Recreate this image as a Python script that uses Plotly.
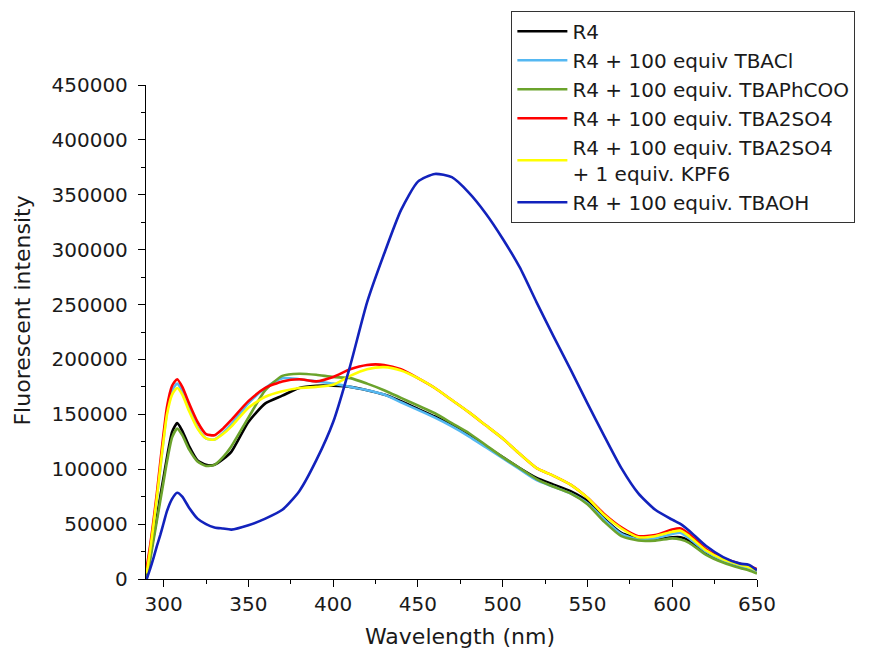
import plotly.graph_objects as go

wavelength = [290, 292, 294, 296, 298, 300, 302, 305, 308, 311, 315, 320, 325, 330, 335, 340,
              350, 360, 370, 380, 390, 400, 410, 420, 430, 440, 450, 460, 470, 480, 490, 500,
              510, 520, 530, 540, 550, 560, 570, 580, 590, 600, 605, 610, 620, 630, 640, 645, 650]

r4 = [3000, 20000, 38000, 56000, 75000, 93000, 111000, 134000, 142000, 135000, 121000, 108000, 104000, 104000, 109000, 116000,
      143000, 160000, 167000, 174000, 176000, 176000, 175000, 172000, 168000, 162000, 155000, 148000, 140000, 131000, 121000, 111000,
      101000, 92000, 86000, 80000, 71000, 55000, 42000, 37000, 36000, 38000, 38000, 35000, 24000, 17000, 12000, 10000, 8000]

r4_tbacl = [8000, 28000, 50000, 74000, 100000, 128000, 152000, 172000, 178000, 171000, 155000, 138000, 128000, 127000, 133000, 141000,
            160000, 174000, 183000, 182000, 180000, 178000, 175000, 172000, 168000, 161000, 154000, 147000, 139000, 130000, 120000, 110000,
            100000, 90000, 84000, 78000, 69000, 54000, 41000, 36000, 37000, 41000, 42000, 37000, 25000, 17000, 12000, 10000, 7000]

r4_tbaphcoo = [0, 17000, 35000, 53000, 71000, 89000, 107000, 129000, 137000, 131000, 118000, 107000, 103000, 104000, 111000, 121000,
               147000, 172000, 185000, 187000, 186000, 184000, 183000, 178000, 172000, 165000, 158000, 151000, 142000, 133000, 122000, 111000,
               101000, 91000, 84000, 78000, 68000, 52000, 39000, 35000, 35000, 37000, 36000, 33000, 22000, 15000, 10000, 8000, 5000]

r4_tba2so4 = [10000, 30000, 53000, 78000, 106000, 133000, 157000, 176000, 182000, 175000, 160000, 143000, 132000, 131000, 137000, 145000,
              162000, 174000, 180000, 182000, 180000, 184000, 191000, 195000, 195000, 191000, 183000, 174000, 163000, 152000, 140000, 128000,
              114000, 101000, 94000, 86000, 74000, 59000, 47000, 39000, 40000, 45000, 46000, 41000, 27000, 19000, 14000, 12000, 9000]

r4_tba2so4_kpf6 = [5000, 26000, 49000, 74000, 101000, 127000, 150000, 168000, 174000, 168000, 153000, 137000, 128000, 127000, 132000, 139000,
                   156000, 166000, 171000, 174000, 175000, 177000, 185000, 191000, 193000, 190000, 183000, 174000, 163000, 152000, 140000, 128000,
                   114000, 101000, 94000, 86000, 74000, 58000, 46000, 38000, 39000, 43000, 44000, 39000, 26000, 18000, 13000, 11000, 8000]

r4_tbaoh = [0, 9000, 19000, 30000, 40000, 51000, 62000, 73000, 78500, 75000, 65000, 55000, 50000, 47000, 46000, 45000,
            49000, 55000, 63000, 80000, 108000, 143000, 194000, 252000, 296000, 336000, 362000, 369000, 366000, 352000, 333000, 310000,
            284000, 252000, 221000, 191000, 160000, 130000, 101000, 78000, 63000, 54000, 50000, 44000, 30000, 20000, 14000, 13000, 8000]

series_names = ["R4",
                "R4 + 100 equiv TBACl",
                "R4 + 100 equiv. TBAPhCOO",
                "R4 + 100 equiv. TBA2SO4",
                "R4 + 100 equiv. TBA2SO4<br>+ 1 equiv. KPF6",
                "R4 + 100 equiv. TBAOH"]
series_values = [r4, r4_tbacl, r4_tbaphcoo, r4_tba2so4, r4_tba2so4_kpf6, r4_tbaoh]
series_colors = ["#000000", "#55B8F2", "#6BA32C", "#FF0000", "#FFFF00", "#1222BC"]

x_ticks = [300, 350, 400, 450, 500, 550, 600, 650]
y_ticks = [0, 50000, 100000, 150000, 200000, 250000, 300000, 350000, 400000, 450000]

FONT = "DejaVu Sans, Arial, sans-serif"

fig = go.Figure()
for name, vals, col in zip(series_names, series_values, series_colors):
    fig.add_trace(go.Scatter(x=wavelength, y=vals, name=name, mode="lines",
                             line=dict(color=col, width=2.6, shape="spline", smoothing=0.6)))

fig.update_layout(
    width=873, height=660,
    margin=dict(l=146, r=116, t=84, b=81),
    paper_bgcolor="white", plot_bgcolor="white",
    font=dict(family=FONT, size=20, color="#1a1a1a"),
    showlegend=True,
    legend=dict(x=0.598, y=1.148, xanchor="left", yanchor="top",
                bordercolor="#333333", borderwidth=1, bgcolor="white",
                font=dict(family=FONT, size=20, color="#1a1a1a"),
                itemwidth=50, tracegroupgap=0),
    xaxis=dict(range=[289.6, 650], tickmode="array", tickvals=x_ticks,
               ticktext=[str(v) for v in x_ticks],
               showline=True, linecolor="#000000", linewidth=1.3,
               ticks="outside", ticklen=7, tickcolor="#000000", tickwidth=1.3,
               minor=dict(dtick=25, tick0=300, ticks="outside", ticklen=4, tickcolor="#000000", tickwidth=1.2),
               showgrid=False, zeroline=False,
               tickfont=dict(size=20)),
    yaxis=dict(range=[0, 450000], tickmode="array", tickvals=y_ticks,
               ticktext=[str(v) for v in y_ticks],
               showline=True, linecolor="#000000", linewidth=1.3,
               ticks="outside", ticklen=7, tickcolor="#000000", tickwidth=1.3,
               ticklabelstandoff=6,
               minor=dict(dtick=25000, tick0=0, ticks="outside", ticklen=4, tickcolor="#000000", tickwidth=1.2),
               showgrid=False, zeroline=False,
               tickfont=dict(size=20)),
    annotations=[
        dict(text="Wavelength (nm)", xref="paper", yref="paper",
             x=(460 - 146) / 611, y=(579 - 637) / 495, xanchor="center", yanchor="middle",
             showarrow=False, font=dict(family=FONT, size=22, color="#1a1a1a")),
        dict(text="Fluorescent intensity", xref="paper", yref="paper",
             x=(23 - 146) / 611, y=(579 - 310) / 495, xanchor="center", yanchor="middle",
             textangle=-90, showarrow=False, font=dict(family=FONT, size=22, color="#1a1a1a")),
    ],
)

fig.write_html("out.html")
